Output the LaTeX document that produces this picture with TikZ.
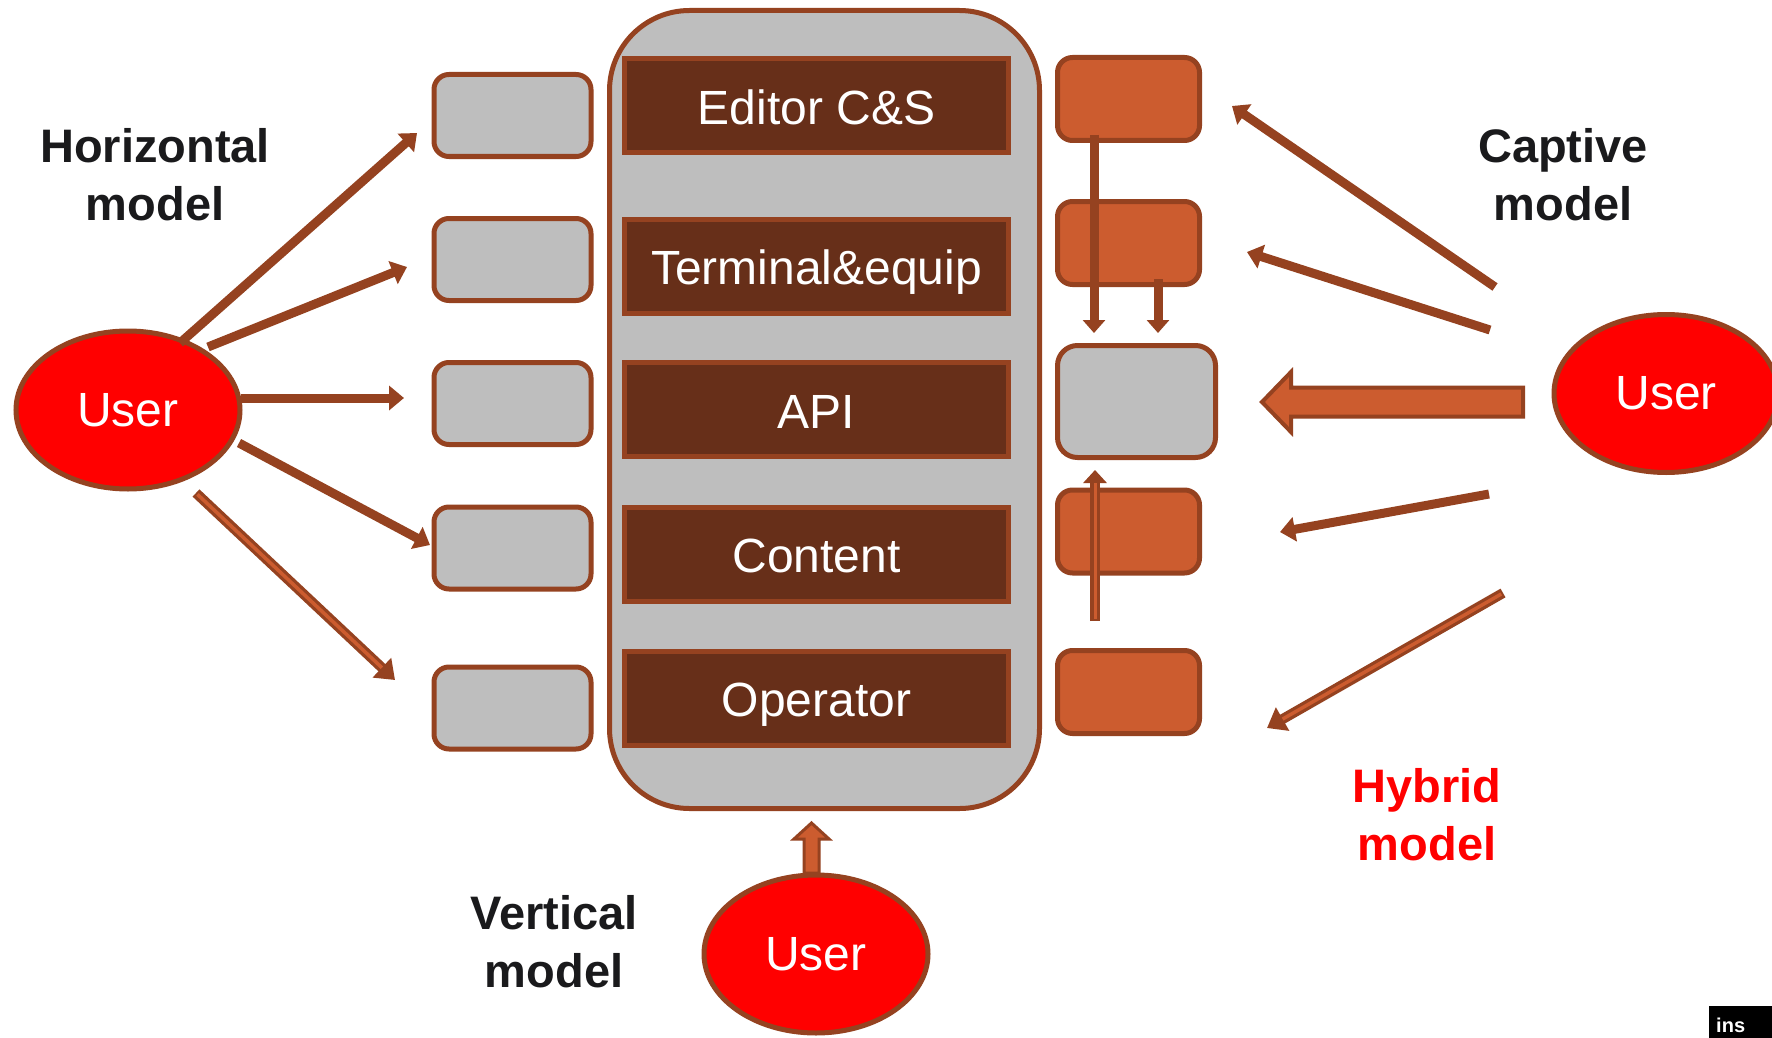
\documentclass[tikz,border=0pt]{standalone}
\usepackage{fontspec}
\setmainfont{Liberation Sans}
\usetikzlibrary{arrows.meta,shapes.geometric}
\definecolor{brn}{HTML}{954220}
\definecolor{darkbar}{HTML}{672F19}
\definecolor{grayfill}{HTML}{BEBEBE}
\definecolor{orangefill}{HTML}{CC5C2F}
\definecolor{labelblack}{HTML}{1A1A1C}
\definecolor{userred}{HTML}{FF0000}
\begin{document}
\begin{tikzpicture}[x=1pt,y=-1pt,
  barbox/.style={draw=brn, line width=5pt, fill=darkbar, minimum width=384pt, minimum height=94pt,
    text=white, font=\fontsize{48}{58}\selectfont, inner sep=0pt, text height=47pt, text depth=10pt},
  leftbox/.style={draw=brn, line width=5pt, fill=grayfill, rounded corners=15pt,
    minimum width=157pt, minimum height=82pt, inner sep=0pt},
  orangebox/.style={draw=brn, line width=5pt, fill=orangefill, rounded corners=15pt,
    minimum width=142pt, minimum height=83pt, inner sep=0pt},
  userell/.style={ellipse, draw=brn, line width=5pt, fill=userred, text=white,
    font=\fontsize{48}{58}\selectfont, minimum width=224pt, minimum height=158pt, inner sep=0pt},
  lbl/.style={font=\bfseries\fontsize{47}{58}\selectfont, text=labelblack, align=center, inner sep=0pt},
  solidarr/.style={draw=brn, line width=9pt, -{Triangle[width=24pt,length=15pt]}},
  thinarr/.style={draw=brn, line width=9pt, -{Triangle[width=22pt,length=13pt]}},
  outerarr/.style={draw=brn, line width=10pt, -{Triangle[width=26pt,length=18pt]}},
  innerarr/.style={draw=orangefill, line width=3.5pt, shorten >=18pt, shorten <=2pt},
  blockarr/.style={draw=brn, line width=4pt, fill=orangefill, line join=miter}
]
\clip (0,0) rectangle (1772,1038);
\fill[white] (0,0) rectangle (1772,1038);

% central container
\draw[draw=brn, line width=5pt, fill=grayfill, rounded corners=80pt] (609.5,10.5) rectangle (1039.5,808.5);

% layer bars
\node[barbox] (ed) at (816.5,106) {Editor C\&S};
\node[barbox] (te) at (816.5,266) {Terminal\&equip};
\node[barbox] (ap) at (816.5,409.5) {API};
\node[barbox] (co) at (816.5,554) {Content};
\node[barbox] (op) at (816.5,698) {Operator};

% left boxes
\node[leftbox] (l1) at (512.5,115.5) {};
\node[leftbox] (l2) at (512.5,259.5) {};
\node[leftbox] (l3) at (512.5,403.5) {};
\node[leftbox] (l4) at (512.5,548) {};
\node[leftbox] (l5) at (512.5,708) {};

% right boxes
\node[orangebox] (r1) at (1128.5,99) {};
\node[orangebox] (r2) at (1128.5,243) {};
\node[draw=brn, line width=5pt, fill=grayfill, rounded corners=20pt,
  minimum width=158pt, minimum height=112pt, inner sep=0pt] (r3) at (1136.5,401.5) {};
\node[orangebox] (r4) at (1128.5,531.5) {};
\node[orangebox] (r5) at (1128.5,692) {};

% users
\node[userell] (uL) at (128,410) {User};
\node[userell] (uR) at (1666,393.5) {User};
\node[userell] (uB) at (816,954) {User};

% left arrows (horizontal model)
\coordinate (a1s) at (180,343); \coordinate (a1t) at (417,133);
\coordinate (a2s) at (208,347); \coordinate (a2t) at (407,267);
\coordinate (a3s) at (241,398); \coordinate (a3t) at (404,398);
\coordinate (a4s) at (239,443); \coordinate (a4t) at (430,545);
\coordinate (a5s) at (196,493); \coordinate (a5t) at (395,680);
\draw[solidarr] (a1s) -- (a1t);
\draw[solidarr] (a2s) -- (a2t);
\draw[solidarr] (a3s) -- (a3t);
\draw[solidarr] (a4s) -- (a4t);
\draw[outerarr] (a5s) -- (a5t);
\draw[innerarr] (a5s) -- (a5t);

% right arrows (captive / hybrid)
\coordinate (b1s) at (1495,287); \coordinate (b1t) at (1232,106);
\coordinate (b2s) at (1490,330); \coordinate (b2t) at (1247,252);
\coordinate (b4s) at (1489,494); \coordinate (b4t) at (1280,532);
\coordinate (b5s) at (1503,593); \coordinate (b5t) at (1267,728);
\draw[solidarr] (b1s) -- (b1t);
\draw[solidarr] (b2s) -- (b2t);
\draw[solidarr] (b4s) -- (b4t);
\draw[outerarr] (b5s) -- (b5t);
\draw[innerarr] (b5s) -- (b5t);

% big block arrow into the grey box
\draw[blockarr] (1523,387.5) -- (1291,387.5) -- (1291,372) -- (1262,402) -- (1291,432)
  -- (1291,416.5) -- (1523,416.5) -- cycle;

% vertical arrows on the right column
\coordinate (k1s) at (1094,135); \coordinate (k1t) at (1094,333);
\coordinate (k2s) at (1158,279); \coordinate (k2t) at (1158,333);
\coordinate (k3s) at (1095,621); \coordinate (k3t) at (1095,470);
\draw[thinarr] (k1s) -- (k1t);
\draw[thinarr] (k2s) -- (k2t);
\draw[draw=brn, line width=10pt, -{Triangle[width=23pt,length=13pt]}] (k3s) -- (k3t);
\draw[draw=orangefill, line width=3pt, shorten >=13pt, shorten <=2pt] (k3s) -- (k3t);

% vertical model arrow
\draw[draw=brn, line width=3pt, fill=orangefill, line join=miter]
  (804,873) -- (804,839) -- (794,839) -- (811.5,823) -- (829,839) -- (819,839) -- (819,873) -- cycle;

% labels
\node[lbl] (hz) at (155,175) {Horizontal\\model};
\node[lbl] (cp) at (1563,175) {Captive\\model};
\node[lbl] (vt) at (554,942) {Vertical\\model};
\node[lbl, text=userred] (hy) at (1427,815) {Hybrid\\model};

% corner badge
\fill[black] (1709,1006) rectangle (1772,1038);
\node[text=white, font=\bfseries\fontsize{20}{20}\selectfont, anchor=west, inner sep=0pt] (badge) at (1716,1025) {ins};
\end{tikzpicture}
\end{document}
